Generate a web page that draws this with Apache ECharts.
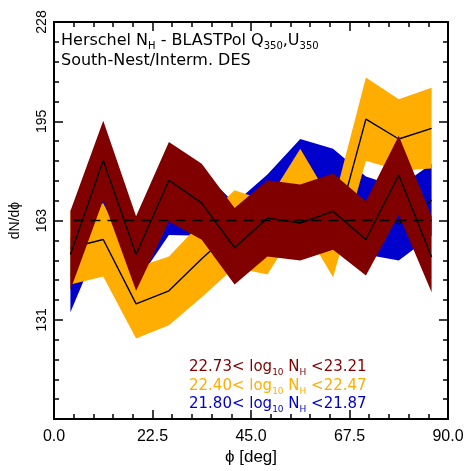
<!DOCTYPE html>
<html>
<head>
<meta charset="utf-8">
<script src="https://cdn.jsdelivr.net/npm/echarts@6/dist/echarts.min.js"></script>
<style>
  html, body { margin: 0; padding: 0; background: #fff; }
  #main { width: 471px; height: 471px; }
</style>
</head>
<body>
<div id="main"></div>
<script>
// bin centres (deg)
var phi = [3.75, 11.25, 18.75, 26.25, 33.75, 41.25, 48.75, 56.25, 63.75, 71.25, 78.75, 86.25];

// 22.73 < log10 NH < 23.21
var redMid  = [151.9, 182.7, 151.9, 176.2, 168.7, 154.1, 163.8, 162.2, 166.0, 156.8, 177.9, 151.1];
var redHigh = [166.1, 195.7, 164.4, 188.7, 181.6, 167.1, 176.2, 174.8, 178.4, 169.3, 190.8, 164.4];
var redLow  = [140.3, 169.7, 140.0, 162.7, 156.7, 142.1, 151.2, 149.9, 153.4, 145.0, 164.9, 139.5];

// 22.40 < log10 NH < 22.47
var orangeMid  = [154.1, 156.8, 135.7, 140.0, 150.5, 160.2, 157.3, 174.5, 156.4, 196.2, 189.7, 193.2];
var orangeHigh = [166.4, 168.7, 147.6, 151.2, 162.5, 172.9, 169.3, 186.5, 168.3, 209.8, 202.7, 206.5];
var orangeLow  = [142.1, 144.7, 124.4, 128.7, 137.9, 147.6, 145.3, 162.5, 144.4, 182.6, 179.4, 180.0];

// 21.80 < log10 NH < 21.87
var blueMid  = [145.0, 170.6, 153.4, 170.3, 168.7, 156.7, 166.1, 177.7, 174.5, 164.8, 161.9, 169.7];
var blueHigh = [157.3, 182.6, 164.1, 182.3, 179.4, 168.7, 178.1, 189.7, 186.5, 177.4, 173.9, 181.6];
var blueLow  = [133.0, 158.6, 142.4, 158.3, 158.0, 144.7, 154.1, 165.8, 162.5, 151.9, 149.9, 158.0];

var meanLevel = 163;
var yTickLabels = ['', '131', '163', '195', '228'];
var binLabels = [
    ['22.73<', '23.21'],
    ['22.40<', '22.47'],
    ['21.80<', '21.87']
];

var RED = '#800000', ORANGE = '#ffad00', BLUE = '#0000cd';
var FONT = 'Liberation Sans';
var WIDE = 'DejaVu Sans';

var myChart = echarts.init(document.getElementById('main'));

function pairs(ys) {
    return phi.map(function (x, i) { return [x, ys[i]]; });
}

// filled band between low and high, drawn as one polygon
function band(name, low, high, color, z) {
    var lowPts = pairs(low), highPts = pairs(high);
    return {
        name: name, type: 'custom', z: z, silent: true,
        coordinateSystem: 'cartesian2d',
        data: highPts.concat(lowPts),
        renderItem: function (params, api) {
            if (params.dataIndex !== 0) return null;
            var pts = [];
            highPts.forEach(function (p) { pts.push(api.coord(p)); });
            lowPts.slice().reverse().forEach(function (p) { pts.push(api.coord(p)); });
            return {
                type: 'polygon',
                shape: { points: pts },
                style: { fill: color, stroke: null }
            };
        }
    };
}

function midLine(name, mid, z) {
    return {
        name: name, type: 'line', z: z, data: pairs(mid), symbol: 'none',
        lineStyle: { color: '#000', width: 1.4 }
    };
}

var axisCommon = {
    axisLine: { show: true, onZero: false, lineStyle: { color: '#000', width: 2 } },
    axisTick: { show: true, inside: true, length: 9, lineStyle: { color: '#000', width: 1.5 } },
    minorTick: { show: true, splitNumber: 5, length: 5, lineStyle: { color: '#000', width: 1.5 } },
    splitLine: { show: false }
};

var series = [
    band('blueBand', blueLow, blueHigh, BLUE, 1),
    midLine('blueMid', blueMid, 2),
    band('orangeBand', orangeLow, orangeHigh, ORANGE, 3),
    midLine('orangeMid', orangeMid, 4),
    band('redBand', redLow, redHigh, RED, 5),
    midLine('redMid', redMid, 6),
    {
        name: 'mean', type: 'line', z: 7, symbol: 'none',
        data: [[phi[0], meanLevel], [phi[phi.length - 1], meanLevel]],
        lineStyle: { color: '#000', width: 1.5, type: [10, 7], dashOffset: -3 }
    }
];

function legendText(i) {
    return '{t|' + binLabels[i][0] + ' log}{s|10}{t| N}{s|H}{t| <' + binLabels[i][1] + '}';
}

function richFor(color, size) {
    return {
        t: { fontFamily: WIDE, fontSize: size, fill: color, color: color, lineHeight: 16, verticalAlign: 'top' },
        s: { fontFamily: WIDE, fontSize: Math.round(size * 0.6), fill: color, color: color, lineHeight: 10, verticalAlign: 'top', padding: [8, 0, 0, 0] }
    };
}

var option = {
    animation: false,
    grid: { left: 47, right: 23, top: 22, bottom: 48, show: false },
    xAxis: [
        Object.assign({
            type: 'value', position: 'bottom', min: 0, max: 90, interval: 22.5,
            name: 'ϕ [deg]', nameLocation: 'middle', nameGap: 24,
            nameTextStyle: { fontFamily: FONT, fontSize: 17, color: '#000' },
            axisLabel: {
                fontFamily: FONT, fontSize: 16, color: '#000', margin: 9,
                formatter: function (v) { return v.toFixed(1); }
            }
        }, axisCommon),
        Object.assign({
            type: 'value', position: 'top', min: 0, max: 90, interval: 22.5,
            axisLabel: { show: false }
        }, axisCommon)
    ],
    yAxis: [
        Object.assign({
            type: 'value', position: 'left', min: 98, max: 228, interval: 32.5,
            name: 'dN/dϕ', nameLocation: 'middle', nameGap: 32, nameRotate: 90,
            nameTextStyle: { fontFamily: FONT, fontSize: 14, color: '#000' },
            axisLabel: {
                fontFamily: FONT, fontSize: 14, color: '#000', margin: 5, rotate: 90,
                formatter: function (v) {
                    return yTickLabels[Math.round((v - 98) / 32.5)] || '';
                }
            }
        }, axisCommon),
        Object.assign({
            type: 'value', position: 'right', min: 98, max: 228, interval: 32.5,
            axisLabel: { show: false }
        }, axisCommon)
    ],
    graphic: [
        {
            type: 'text', left: 61, top: 33, z: 100,
            style: {
                text: '{t|Herschel N}{s|H}{t| - BLASTPol Q}{s|350}{t|,U}{s|350}',
                rich: richFor('#000', 16)
            }
        },
        {
            type: 'text', left: 61, top: 53, z: 100,
            style: { text: 'South-Nest/Interm. DES', fontFamily: WIDE, fontSize: 16, fill: '#000' }
        },
        {
            type: 'text', left: 189, top: 360, z: 100,
            style: { text: legendText(0), rich: richFor(RED, 15) }
        },
        {
            type: 'text', left: 189, top: 379, z: 100,
            style: { text: legendText(1), rich: richFor(ORANGE, 15) }
        },
        {
            type: 'text', left: 189, top: 397, z: 100,
            style: { text: legendText(2), rich: richFor(BLUE, 15) }
        }
    ],
    series: series
};

myChart.setOption(option);
</script>
</body>
</html>
